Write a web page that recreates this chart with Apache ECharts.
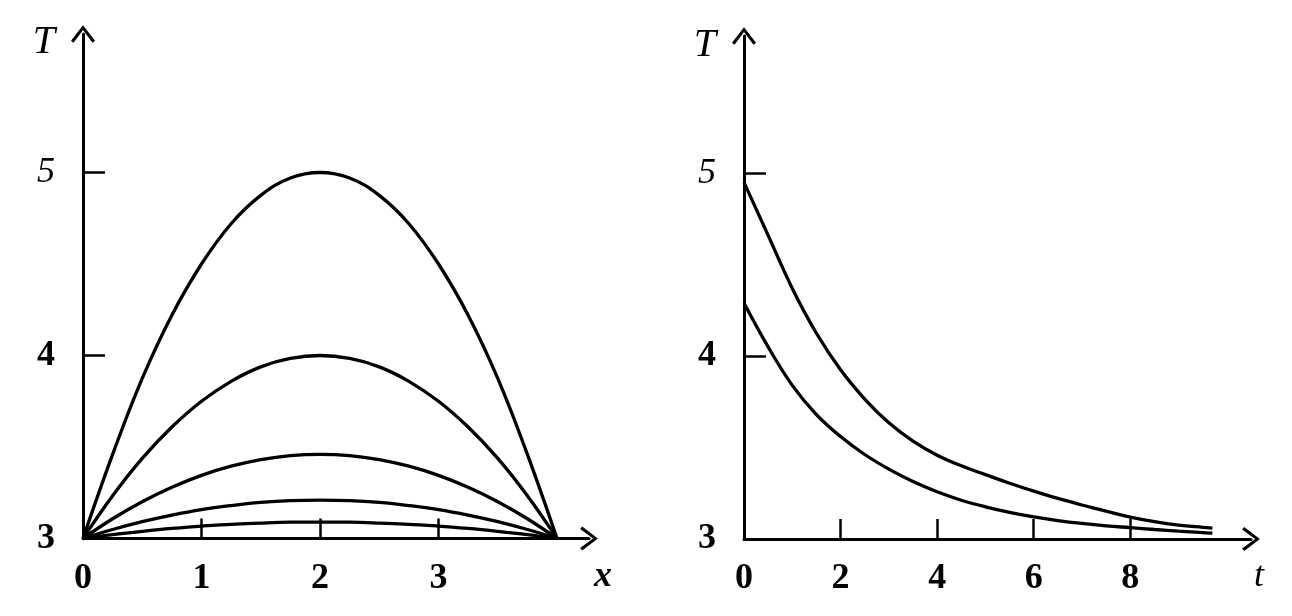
<!DOCTYPE html>
<html>
<head>
<meta charset="utf-8">
<script src="https://cdn.jsdelivr.net/npm/echarts@6/dist/echarts.min.js"></script>
<style>
html,body{margin:0;padding:0;background:#fff;}
#chart{width:1292px;height:616px;}
</style>
</head>
<body>
<div id="chart"></div>
<script>
// ---- Left panel: T versus x (profiles at successive times) ----
const xValues = [0, 0.25, 0.5, 0.75, 1, 1.25, 1.5, 1.75, 2, 2.25, 2.5, 2.75, 3, 3.25, 3.5, 3.75, 4];
const profile1 = [3.000, 3.460, 3.875, 4.220, 4.500, 4.720, 4.875, 4.970, 5.000, 4.970, 4.875, 4.720, 4.500, 4.220, 3.875, 3.460, 3.000];
const profile2 = [3.000, 3.234, 3.438, 3.609, 3.750, 3.859, 3.938, 3.984, 4.000, 3.984, 3.938, 3.859, 3.750, 3.609, 3.438, 3.234, 3.000];
const profile3 = [3.000, 3.108, 3.201, 3.280, 3.345, 3.395, 3.431, 3.453, 3.460, 3.453, 3.431, 3.395, 3.345, 3.280, 3.201, 3.108, 3.000];
const profile4 = [3.000, 3.049, 3.092, 3.128, 3.158, 3.180, 3.197, 3.207, 3.210, 3.207, 3.197, 3.180, 3.158, 3.128, 3.092, 3.049, 3.000];
const profile5 = [3.000, 3.021, 3.039, 3.055, 3.068, 3.077, 3.084, 3.089, 3.090, 3.089, 3.084, 3.077, 3.068, 3.055, 3.039, 3.021, 3.000];
const leftXTickLabels = [0, 1, 2, 3];
const leftXTickMarks = [1, 2, 3];

// ---- Right panel: T versus t (decay at two points) ----
const tValues = [0, 0.5, 1, 1.5, 2, 2.5, 3, 3.5, 4, 4.5, 5, 5.5, 6, 6.5, 7, 7.5, 8, 8.5, 9, 9.5, 9.7];
const upperCurve = [4.950, 4.660, 4.370, 4.125, 3.925, 3.765, 3.635, 3.535, 3.458, 3.400, 3.352, 3.305, 3.262, 3.222, 3.186, 3.152, 3.120, 3.095, 3.076, 3.064, 3.060];
const lowerCurve = [4.290, 4.050, 3.840, 3.680, 3.560, 3.462, 3.382, 3.314, 3.258, 3.212, 3.176, 3.146, 3.121, 3.101, 3.085, 3.072, 3.062, 3.052, 3.043, 3.035, 3.032];
const rightXTickLabels = [0, 2, 4, 6, 8];
const rightXTickMarks = [2, 4, 6, 8];

const yTickLabels = [3, 4, 5];
const yTickMarks = [4, 5];

function pairs(xs, ys) { return xs.map((x, i) => [x, ys[i]]); }

const FONT = '"Liberation Serif", "DejaVu Serif", serif';
const arrowPath = 'path://M0,15 L11.5,0 L23,15 L20.6,17 L11.5,4.6 L2.4,17 Z';
const labelRich = {
  b: { fontFamily: FONT, fontSize: 36, fontWeight: 'bold', color: '#000' },
  n: { fontFamily: FONT, fontSize: 36, fontStyle: 'italic', color: '#000' }
};
function labelFmt(v) { return v === 5 ? '{n|' + v + '}' : '{b|' + v + '}'; }

function xAxisCfg(gridIndex, max, labels, marks, name, nameGap, namePadTop, nameWeight) {
  return {
    type: 'value', gridIndex: gridIndex, min: 0, max: max,
    name: name, nameLocation: 'end', nameGap: nameGap,
    nameTextStyle: { fontFamily: FONT, fontStyle: 'italic', fontWeight: nameWeight, fontSize: 36, color: '#000',
      align: 'center', verticalAlign: 'top', padding: [namePadTop, 0, 0, 0] },
    axisLine: { show: true, onZero: false, symbol: ['none', arrowPath], symbolSize: [24, 18],
      lineStyle: { color: '#000', width: 3 } },
    axisTick: { show: true, inside: true, length: 20, customValues: marks,
      lineStyle: { color: '#000', width: 2.5 } },
    axisLabel: { show: true, customValues: labels, margin: 22, formatter: labelFmt, rich: labelRich,
      fontFamily: FONT, fontSize: 36, color: '#000' },
    splitLine: { show: false }
  };
}
function yAxisCfg(gridIndex, max, nameGap) {
  return {
    type: 'value', gridIndex: gridIndex, min: 3, max: max,
    name: 'T', nameLocation: 'end', nameGap: nameGap,
    nameTextStyle: { fontFamily: FONT, fontStyle: 'italic', fontWeight: 'normal', fontSize: 40, color: '#000',
      align: 'right', verticalAlign: 'middle', padding: [0, 28, 0, 0] },
    axisLine: { show: true, onZero: false, symbol: ['none', arrowPath], symbolSize: [24, 18],
      lineStyle: { color: '#000', width: 3 } },
    axisTick: { show: true, inside: true, length: 22, customValues: yTickMarks,
      lineStyle: { color: '#000', width: 2.5 } },
    axisLabel: { show: true, customValues: yTickLabels, margin: 28, formatter: labelFmt, rich: labelRich,
      fontFamily: FONT, fontSize: 36, color: '#000' },
    splitLine: { show: false }
  };
}
function lineSeries(xi, yi, data) {
  return {
    type: 'line', xAxisIndex: xi, yAxisIndex: yi, data: data,
    smooth: 0.4, showSymbol: false, symbol: 'none', clip: false,
    lineStyle: { color: '#000', width: 3.3 }, silent: true, animation: false
  };
}

const chart = echarts.init(document.getElementById('chart'), null, { renderer: 'canvas' });
chart.setOption({
  backgroundColor: '#fff',
  animation: false,
  grid: [
    { left: 83, top: 34, width: 506, height: 504.5, containLabel: false, outerBoundsMode: 'none' },
    { left: 744, top: 36, width: 507, height: 503, containLabel: false, outerBoundsMode: 'none' }
  ],
  xAxis: [
    xAxisCfg(0, 4.27, leftXTickLabels, leftXTickMarks, 'x', 14, 20, 'bold'),
    xAxisCfg(1, 10.5, rightXTickLabels, rightXTickMarks, 't', 8, 20, 'normal')
  ],
  yAxis: [
    yAxisCfg(0, 5.757, -8),
    yAxisCfg(1, 5.75, -9)
  ],
  series: [
    lineSeries(0, 0, pairs(xValues, profile1)),
    lineSeries(0, 0, pairs(xValues, profile2)),
    lineSeries(0, 0, pairs(xValues, profile3)),
    lineSeries(0, 0, pairs(xValues, profile4)),
    lineSeries(0, 0, pairs(xValues, profile5)),
    lineSeries(1, 1, pairs(tValues, upperCurve)),
    lineSeries(1, 1, pairs(tValues, lowerCurve))
  ]
});
</script>
</body>
</html>
